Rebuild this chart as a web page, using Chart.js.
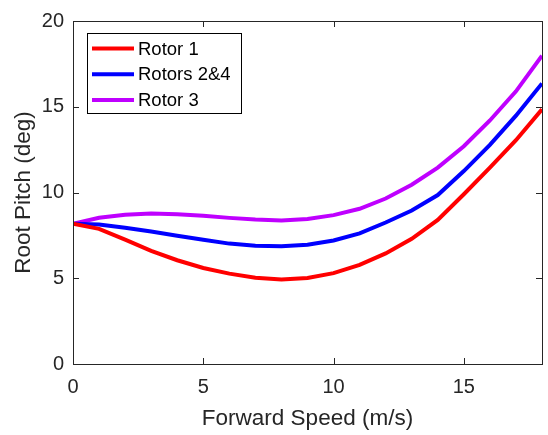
<!DOCTYPE html>
<html>
<head>
<meta charset="utf-8">
<script src="https://cdn.jsdelivr.net/npm/chart.js@4"></script>
<style>
  html, body { margin: 0; padding: 0; background: #fff; }
  #pitchChart { display: block; }
</style>
</head>
<body>
<canvas id="pitchChart" width="548" height="435"></canvas>
<script>
// forward speed (m/s) and root pitch (deg) for each rotor
const speeds = [0, 1, 2, 3, 4, 5, 6, 7, 8, 9, 10, 11, 12, 13, 14, 15, 16, 17, 18];
const rotor1 = [8.18, 7.88, 7.25, 6.6, 6.05, 5.6, 5.27, 5.03, 4.93, 5.02, 5.3, 5.78, 6.45, 7.3, 8.4, 9.9, 11.45, 13.05, 14.85];
const rotors24 = [8.18, 8.13, 7.95, 7.72, 7.48, 7.25, 7.02, 6.9, 6.87, 6.95, 7.2, 7.62, 8.25, 8.95, 9.85, 11.25, 12.78, 14.48, 16.36];
const rotor3 = [8.18, 8.53, 8.7, 8.77, 8.73, 8.65, 8.52, 8.42, 8.37, 8.45, 8.68, 9.05, 9.65, 10.45, 11.45, 12.7, 14.2, 15.9, 17.98];

const xTicks = [0, 5, 10, 15];
const yTicks = [0, 5, 10, 15, 20];

const seriesNames = ['Rotor 1', 'Rotors 2&4', 'Rotor 3'];
const seriesColors = ['#ff0000', '#0000ff', '#bf00ff'];

const AXIS_COLOR = '#262626';
const FONT = 'Liberation Sans, Arial, Helvetica, sans-serif';

function toPoints(values) {
  return speeds.map((s, i) => ({ x: s, y: values[i] }));
}

// box around the axes with inward ticks on all four sides
const axesBox = {
  id: 'axesBox',
  afterDraw(chart) {
    const { ctx, chartArea: a, scales } = chart;
    const len = 6;
    ctx.save();
    ctx.strokeStyle = AXIS_COLOR;
    ctx.lineWidth = 1;
    ctx.beginPath();
    xTicks.concat([18]).forEach(v => {
      const px = Math.round(scales.x.getPixelForValue(v)) + 0.5;
      ctx.moveTo(px, a.bottom); ctx.lineTo(px, a.bottom - len);
      ctx.moveTo(px, a.top); ctx.lineTo(px, a.top + len);
    });
    yTicks.forEach(v => {
      const py = Math.round(scales.y.getPixelForValue(v)) + 0.5;
      ctx.moveTo(a.left, py); ctx.lineTo(a.left + len, py);
      ctx.moveTo(a.right, py); ctx.lineTo(a.right - len, py);
    });
    ctx.stroke();
    ctx.strokeRect(a.left + 0.5, a.top + 0.5, a.right - a.left, a.bottom - a.top);
    ctx.restore();
  }
};

// legend in the upper left corner of the plot
const boxLegend = {
  id: 'boxLegend',
  afterDraw(chart) {
    const { ctx, chartArea: a } = chart;
    const left = a.left + 14, top = a.top + 12;
    const w = 154, h = 80, row = 25.7;
    ctx.save();
    ctx.fillStyle = '#fff';
    ctx.fillRect(left, top, w, h);
    ctx.strokeStyle = '#000';
    ctx.lineWidth = 1;
    ctx.strokeRect(left + 0.5, top + 0.5, w, h);
    ctx.font = '18.5px ' + FONT;
    ctx.textBaseline = 'middle';
    ctx.fillStyle = '#000';
    chart.data.datasets.forEach((ds, i) => {
      const y = top + 15.5 + i * row;
      ctx.strokeStyle = ds.borderColor;
      ctx.lineWidth = 4;
      ctx.beginPath();
      ctx.moveTo(left + 5, y);
      ctx.lineTo(left + 47, y);
      ctx.stroke();
      ctx.fillText(ds.label, left + 51, y + 1);
    });
    ctx.restore();
  }
};

const datasets = [rotor1, rotors24, rotor3].map((vals, i) => ({
  label: seriesNames[i],
  data: toPoints(vals),
  borderColor: seriesColors[i],
  borderWidth: 4,
  pointRadius: 0,
  tension: 0,
  fill: false
}));

new Chart(document.getElementById('pitchChart'), {
  type: 'line',
  data: { datasets },
  options: {
    responsive: false,
    animation: false,
    layout: { padding: { left: 0, right: 6, top: 12, bottom: 0 } },
    plugins: {
      legend: { display: false },
      tooltip: { enabled: false }
    },
    scales: {
      x: {
        type: 'linear',
        min: 0,
        max: 18,
        afterFit: s => { s.height = 71; },
        afterBuildTicks: s => { s.ticks = xTicks.map(v => ({ value: v })); },
        grid: { display: false, drawTicks: false },
        border: { display: false },
        ticks: { color: AXIS_COLOR, font: { family: FONT, size: 20 }, padding: 11, maxRotation: 0 },
        title: { display: true, text: 'Forward Speed (m/s)', color: AXIS_COLOR, font: { family: FONT, size: 22.5 }, padding: { top: 0, bottom: 3 } }
      },
      y: {
        min: 0,
        max: 20,
        afterFit: s => { s.width = 73; },
        afterBuildTicks: s => { s.ticks = yTicks.map(v => ({ value: v })); },
        grid: { display: false, drawTicks: false },
        border: { display: false },
        ticks: { color: AXIS_COLOR, font: { family: FONT, size: 20 }, padding: 9 },
        title: { display: true, text: 'Root Pitch (deg)', color: AXIS_COLOR, font: { family: FONT, size: 22.5 }, padding: { top: 10, bottom: 0 } }
      }
    }
  },
  plugins: [axesBox, boxLegend]
});
</script>
</body>
</html>
